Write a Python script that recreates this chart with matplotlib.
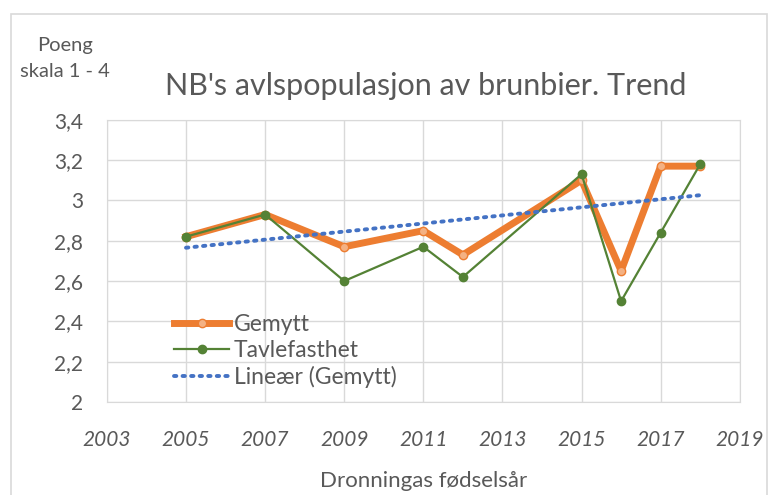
import numpy as np
import matplotlib.pyplot as plt
from matplotlib.patches import Rectangle

# data
years = [2005, 2007, 2009, 2011, 2012, 2015, 2016, 2017, 2018]
gemytt = [2.82, 2.93, 2.77, 2.85, 2.73, 3.10, 2.65, 3.17, 3.17]
tavlefasthet = [2.82, 2.93, 2.60, 2.77, 2.62, 3.13, 2.50, 2.84, 3.18]
xticks = list(range(2003, 2020, 2))
yticks = [2.0, 2.2, 2.4, 2.6, 2.8, 3.0, 3.2, 3.4]
ytick_labels = ['2', '2,2', '2,4', '2,6', '2,8', '3', '3,2', '3,4']

plt.rcParams['font.family'] = ['Lato', 'DejaVu Sans']
grey = '#595959'

fig = plt.figure(figsize=(7.69, 4.95), dpi=100)
ax = fig.add_axes([0.139, 0.188, 0.823, 0.570])

# linear trendline (Excel style) for Gemytt
slope, intercept = np.polyfit(years, gemytt, 1)
tx = np.array([years[0], years[-1]])

ax.plot(years, gemytt, color='#ED7D31', lw=5, marker='o', ms=6,
        mfc='#F4B183', mec='#ED7D31', mew=1, label='Gemytt', zorder=3)
ax.plot(years, tavlefasthet, color='#548235', lw=1.6, marker='o', ms=6,
        mfc='#548235', mec='#548235', label='Tavlefasthet', zorder=4)
ax.plot(tx, slope * tx + intercept, color='#4472C4', lw=2.8,
        linestyle=(0, (0.6, 1.6)), dash_capstyle='round',
        label='Lineær (Gemytt)', zorder=5)

ax.set_xlim(2003, 2019)
ax.set_ylim(2.0, 3.4)
ax.set_xticks(xticks)
ax.set_yticks(yticks)
ax.set_yticklabels(ytick_labels)
ax.grid(True, color='#D9D9D9', lw=1)
ax.set_axisbelow(True)
for s in ax.spines.values():
    s.set_color('#D9D9D9')
ax.tick_params(length=0, colors=grey, labelsize=15)
ax.tick_params(axis='x', pad=20)
ax.tick_params(axis='y', pad=17)
for lab in ax.get_xticklabels():
    lab.set_fontstyle('italic')

ax.set_xlabel('Dronningas fødselsår', color=grey, fontsize=16, labelpad=15)

leg = ax.legend(loc='lower left', bbox_to_anchor=(0.085, 0.0), frameon=False,
                fontsize=16.5, handlelength=2.4, handletextpad=0.2,
                labelspacing=0.22, borderaxespad=0.2)
for t in leg.get_texts():
    t.set_color(grey)

fig.text(0.553, 0.826, "NB's avlspopulasjon av brunbier. Trend",
         ha='center', va='center', fontsize=22, color=grey)
fig.text(0.085, 0.882, 'Poeng\nskala 1 - 4', ha='center', va='center',
         fontsize=14.5, color=grey, linespacing=1.7)

# outer chart border
fig.patches.append(Rectangle((11 / 769, -0.01), 756 / 769, 1 - 14 / 495 + 0.01,
                             transform=fig.transFigure, fill=False,
                             edgecolor='#D9D9D9', lw=1.2))

fig.savefig('out.png', dpi=100)
